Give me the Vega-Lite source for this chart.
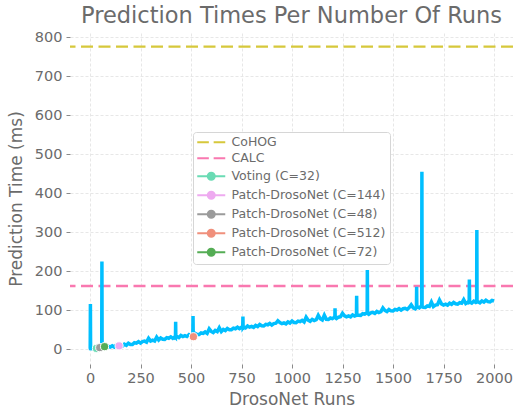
{
  "$schema": "https://vega.github.io/schema/vega-lite/v6.json",
  "width": 443,
  "height": 331,
  "autosize": {"type": "none"},
  "padding": {"left": 70, "top": 33, "right": 0, "bottom": 48},
  "background": "white",
  "title": {"text": "Prediction Times Per Number Of Runs", "fontSize": 22.5, "font": "DejaVu Sans", "fontWeight": "normal", "color": "#6b6b6b", "anchor": "middle", "offset": 2},
  "config": {
    "font": "DejaVu Sans",
    "view": {"stroke": null},
    "axis": {
      "grid": true, "gridColor": "#e4e4e4", "gridDash": [3, 2], "gridWidth": 0.9,
      "domain": false, "tickColor": "#8a8a8a", "tickSize": 4, "tickWidth": 1,
      "labelFont": "DejaVu Sans", "labelFontSize": 14.5, "labelColor": "#6b6b6b", "labelPadding": 4,
      "titleFont": "DejaVu Sans", "titleFontSize": 17, "titleFontWeight": "normal", "titleColor": "#6b6b6b"
    }
  },
  "resolve": {"scale": {"color": "independent"}},
  "datasets": {
    "drosonet": [
      {"runs": 0, "time": 0.5}, {"runs": 1, "time": 1}, {"runs": 2, "time": 116}, {"runs": 3, "time": 1.5},
      {"runs": 10, "time": 1}, {"runs": 20, "time": 3}, {"runs": 30, "time": 2}, {"runs": 40, "time": 3.5}, {"runs": 50, "time": 3},
      {"runs": 58, "time": 5}, {"runs": 59, "time": 225}, {"runs": 60, "time": 4}, {"runs": 70, "time": 6}, {"runs": 80, "time": 4.5},
      {"runs": 90, "time": 7.5}, {"runs": 100, "time": 5.5}, {"runs": 110, "time": 8.5}, {"runs": 120, "time": 5.5}, {"runs": 130, "time": 10.7},
      {"runs": 140, "time": 8}, {"runs": 150, "time": 10}, {"runs": 160, "time": 7.5}, {"runs": 170, "time": 12.7}, {"runs": 180, "time": 10},
      {"runs": 190, "time": 15.2}, {"runs": 200, "time": 12}, {"runs": 210, "time": 12}, {"runs": 220, "time": 16.5}, {"runs": 230, "time": 15.5},
      {"runs": 240, "time": 19.5}, {"runs": 250, "time": 15.7}, {"runs": 260, "time": 19.5}, {"runs": 270, "time": 20.7}, {"runs": 280, "time": 18},
      {"runs": 290, "time": 28}, {"runs": 300, "time": 21}, {"runs": 310, "time": 23.2}, {"runs": 320, "time": 21}, {"runs": 330, "time": 31},
      {"runs": 340, "time": 23.5}, {"runs": 350, "time": 28.7}, {"runs": 360, "time": 25.5}, {"runs": 370, "time": 25.2}, {"runs": 380, "time": 29.5},
      {"runs": 390, "time": 28}, {"runs": 400, "time": 31.5}, {"runs": 410, "time": 27.7}, {"runs": 420, "time": 31.5}, {"runs": 423, "time": 30},
      {"runs": 424, "time": 70}, {"runs": 425, "time": 31}, {"runs": 430, "time": 32.7}, {"runs": 440, "time": 30}, {"runs": 450, "time": 35.2},
      {"runs": 460, "time": 32.5}, {"runs": 470, "time": 34.7}, {"runs": 480, "time": 32.5}, {"runs": 490, "time": 37.5}, {"runs": 500, "time": 34.5},
      {"runs": 509, "time": 37}, {"runs": 510, "time": 85}, {"runs": 511, "time": 37.5}, {"runs": 520, "time": 40.5}, {"runs": 530, "time": 37.5},
      {"runs": 540, "time": 37.5}, {"runs": 550, "time": 41.7}, {"runs": 560, "time": 40.5}, {"runs": 570, "time": 44.2}, {"runs": 580, "time": 40.5},
      {"runs": 590, "time": 52}, {"runs": 600, "time": 45.5}, {"runs": 610, "time": 42.7}, {"runs": 620, "time": 48}, {"runs": 630, "time": 45.2},
      {"runs": 640, "time": 55}, {"runs": 650, "time": 45.2}, {"runs": 660, "time": 50.5}, {"runs": 670, "time": 47.7}, {"runs": 680, "time": 53},
      {"runs": 690, "time": 50}, {"runs": 700, "time": 50}, {"runs": 710, "time": 54}, {"runs": 720, "time": 52.5}, {"runs": 730, "time": 56.2},
      {"runs": 740, "time": 52.5}, {"runs": 750, "time": 56.2}, {"runs": 756, "time": 55}, {"runs": 757, "time": 84}, {"runs": 758, "time": 56},
      {"runs": 760, "time": 57.5}, {"runs": 770, "time": 54.5}, {"runs": 780, "time": 59.5}, {"runs": 790, "time": 56.5}, {"runs": 800, "time": 58.5},
      {"runs": 810, "time": 56}, {"runs": 820, "time": 61}, {"runs": 830, "time": 58.2}, {"runs": 840, "time": 63.5}, {"runs": 850, "time": 60},
      {"runs": 860, "time": 59.5}, {"runs": 870, "time": 63.7}, {"runs": 880, "time": 62.5}, {"runs": 890, "time": 66}, {"runs": 900, "time": 62},
      {"runs": 910, "time": 65.5}, {"runs": 920, "time": 66.5}, {"runs": 930, "time": 73}, {"runs": 940, "time": 68.5}, {"runs": 950, "time": 65.5},
      {"runs": 960, "time": 67.5}, {"runs": 970, "time": 65}, {"runs": 980, "time": 70}, {"runs": 990, "time": 67}, {"runs": 1000, "time": 72},
      {"runs": 1010, "time": 68.5}, {"runs": 1020, "time": 68}, {"runs": 1030, "time": 72}, {"runs": 1040, "time": 70.5}, {"runs": 1050, "time": 74},
      {"runs": 1060, "time": 70}, {"runs": 1070, "time": 82}, {"runs": 1080, "time": 74.5}, {"runs": 1090, "time": 71.5}, {"runs": 1100, "time": 76.5},
      {"runs": 1110, "time": 73.5}, {"runs": 1120, "time": 75.5}, {"runs": 1130, "time": 87}, {"runs": 1140, "time": 78}, {"runs": 1150, "time": 75},
      {"runs": 1160, "time": 87}, {"runs": 1170, "time": 76.5}, {"runs": 1180, "time": 76}, {"runs": 1190, "time": 80}, {"runs": 1200, "time": 78.5},
      {"runs": 1210, "time": 82.2}, {"runs": 1212, "time": 80}, {"runs": 1213, "time": 105}, {"runs": 1214, "time": 81}, {"runs": 1220, "time": 78.4},
      {"runs": 1230, "time": 82.1}, {"runs": 1240, "time": 83.3}, {"runs": 1250, "time": 92}, {"runs": 1260, "time": 85.7}, {"runs": 1270, "time": 82.9},
      {"runs": 1280, "time": 85.1}, {"runs": 1290, "time": 82.8}, {"runs": 1300, "time": 88}, {"runs": 1310, "time": 85.2}, {"runs": 1319, "time": 87},
      {"runs": 1320, "time": 137}, {"runs": 1321, "time": 88}, {"runs": 1330, "time": 87.1}, {"runs": 1340, "time": 86.8}, {"runs": 1350, "time": 91},
      {"runs": 1360, "time": 89.7}, {"runs": 1370, "time": 93.4}, {"runs": 1372, "time": 91}, {"runs": 1373, "time": 203}, {"runs": 1374, "time": 92},
      {"runs": 1380, "time": 89.6}, {"runs": 1390, "time": 93.3}, {"runs": 1400, "time": 94.5}, {"runs": 1410, "time": 91.7}, {"runs": 1420, "time": 96.9},
      {"runs": 1430, "time": 94.1}, {"runs": 1440, "time": 96.3}, {"runs": 1450, "time": 106}, {"runs": 1460, "time": 99.2}, {"runs": 1470, "time": 96.4},
      {"runs": 1480, "time": 101.6}, {"runs": 1490, "time": 98.3}, {"runs": 1500, "time": 98}, {"runs": 1510, "time": 102.1}, {"runs": 1520, "time": 100.6},
      {"runs": 1530, "time": 104.2}, {"runs": 1540, "time": 100.3}, {"runs": 1550, "time": 103.8}, {"runs": 1560, "time": 104.9}, {"runs": 1570, "time": 102},
      {"runs": 1580, "time": 107}, {"runs": 1590, "time": 114}, {"runs": 1600, "time": 106.2}, {"runs": 1610, "time": 103.7}, {"runs": 1616, "time": 107},
      {"runs": 1617, "time": 160}, {"runs": 1618, "time": 106}, {"runs": 1620, "time": 108.8}, {"runs": 1630, "time": 105.9}, {"runs": 1640, "time": 111},
      {"runs": 1642, "time": 108}, {"runs": 1643, "time": 455}, {"runs": 1644, "time": 109}, {"runs": 1650, "time": 107.5}, {"runs": 1660, "time": 107.1},
      {"runs": 1670, "time": 111.2}, {"runs": 1680, "time": 109.8}, {"runs": 1690, "time": 121}, {"runs": 1700, "time": 109.4}, {"runs": 1710, "time": 113},
      {"runs": 1720, "time": 114}, {"runs": 1730, "time": 126}, {"runs": 1740, "time": 116.2}, {"runs": 1750, "time": 113.3}, {"runs": 1760, "time": 115.3},
      {"runs": 1770, "time": 112.9}, {"runs": 1780, "time": 118}, {"runs": 1790, "time": 115}, {"runs": 1800, "time": 120}, {"runs": 1810, "time": 116.4},
      {"runs": 1820, "time": 115.7}, {"runs": 1830, "time": 119.5}, {"runs": 1840, "time": 117.9}, {"runs": 1850, "time": 127}, {"runs": 1860, "time": 117.1},
      {"runs": 1870, "time": 120.4}, {"runs": 1877, "time": 120}, {"runs": 1878, "time": 179}, {"runs": 1879, "time": 121}, {"runs": 1880, "time": 121.3},
      {"runs": 1890, "time": 118.1}, {"runs": 1900, "time": 123}, {"runs": 1910, "time": 119.8}, {"runs": 1914, "time": 121}, {"runs": 1915, "time": 306},
      {"runs": 1916, "time": 122}, {"runs": 1920, "time": 121.7}, {"runs": 1930, "time": 119}, {"runs": 1940, "time": 123.9}, {"runs": 1950, "time": 120.7},
      {"runs": 1960, "time": 125.6}, {"runs": 1970, "time": 121.9}, {"runs": 1980, "time": 121.3}, {"runs": 1990, "time": 125.1}, {"runs": 2000, "time": 123.5}
    ],
    "refs": [
      {"series": "CoHOG", "time": 776},
      {"series": "CALC", "time": 162}
    ],
    "points": [
      {"series": "Voting (C=32)", "runs": 32, "time": 2},
      {"series": "Patch-DrosoNet (C=144)", "runs": 144, "time": 8.5},
      {"series": "Patch-DrosoNet (C=48)", "runs": 48, "time": 4},
      {"series": "Patch-DrosoNet (C=512)", "runs": 512, "time": 32},
      {"series": "Patch-DrosoNet (C=72)", "runs": 72, "time": 6.5}
    ]
  },
  "layer": [
    {
      "data": {"name": "refs"},
      "mark": {"type": "rule", "strokeWidth": 2.4, "strokeDash": [12, 5.5]},
      "encoding": {
        "y": {"field": "time", "type": "quantitative", "scale": {"domain": [-38, 811]}},
        "color": {"field": "series", "type": "nominal", "legend": null,
          "scale": {"domain": ["CoHOG", "CALC"], "range": ["#d6c83b", "#f978b0"]}}
      }
    },
    {
      "data": {"name": "drosonet"},
      "mark": {"type": "line", "color": "#00bfff", "strokeWidth": 3.5, "clip": true},
      "encoding": {
        "x": {"field": "runs", "type": "quantitative", "scale": {"domain": [-99, 2094], "nice": false, "zero": false},
          "axis": {"title": "DrosoNet Runs", "values": [0, 250, 500, 750, 1000, 1250, 1500, 1750, 2000], "format": "d", "labelPadding": 3, "titlePadding": 7}},
        "y": {"field": "time", "type": "quantitative", "scale": {"domain": [-38, 811], "nice": false, "zero": false},
          "axis": {"title": "Prediction Time (ms)", "values": [0, 100, 200, 300, 400, 500, 600, 700, 800], "format": "d", "titlePadding": 9}}
      }
    },
    {
      "data": {"name": "points"},
      "mark": {"type": "point", "filled": true, "opacity": 1, "size": 66, "stroke": "white", "strokeWidth": 1},
      "encoding": {
        "x": {"field": "runs", "type": "quantitative"},
        "y": {"field": "time", "type": "quantitative"},
        "color": {"field": "series", "type": "nominal", "legend": null,
          "scale": {"domain": ["Voting (C=32)", "Patch-DrosoNet (C=144)", "Patch-DrosoNet (C=48)", "Patch-DrosoNet (C=512)", "Patch-DrosoNet (C=72)"],
                    "range": ["#6adbb4", "#eeaaf0", "#9b9b9b", "#f0907c", "#55ad55"]}}
      }
    },
    {
      "data": {"name": "points"},
      "mark": {"type": "point", "filled": true, "opacity": 0, "strokeWidth": 2},
      "encoding": {
        "x": {"field": "runs", "type": "quantitative"},
        "y": {"field": "time", "type": "quantitative"},
        "fill": {"field": "series", "type": "nominal", "scale": {"domain": ["CoHOG", "CALC", "Voting (C=32)", "Patch-DrosoNet (C=144)", "Patch-DrosoNet (C=48)", "Patch-DrosoNet (C=512)", "Patch-DrosoNet (C=72)"],
                    "range": ["#d6c83b", "#f978b0", "#6adbb4", "#eeaaf0", "#9b9b9b", "#f0907c", "#55ad55"]},
          "legend": {"title": null, "orient": "none", "legendX": 123, "legendY": 99, "padding": 4, "fillColor": "white", "strokeColor": "#d6d6d6", "cornerRadius": 3,
            "symbolSize": 64, "symbolStrokeWidth": 2, "symbolOpacity": 1, "symbolOffset": 8, "labelOffset": 14, "rowPadding": 3,
            "labelFont": "DejaVu Sans", "labelFontSize": 12.5, "labelColor": "#6b6b6b", "labelLimit": 300}},
        "stroke": {"field": "series", "type": "nominal", "scale": {"domain": ["CoHOG", "CALC", "Voting (C=32)", "Patch-DrosoNet (C=144)", "Patch-DrosoNet (C=48)", "Patch-DrosoNet (C=512)", "Patch-DrosoNet (C=72)"],
                    "range": ["#d6c83b", "#f978b0", "#6adbb4", "#eeaaf0", "#9b9b9b", "#f0907c", "#55ad55"]},
          "legend": {"title": null, "orient": "none", "legendX": 123, "legendY": 99, "padding": 4, "fillColor": "white", "strokeColor": "#d6d6d6", "cornerRadius": 3,
            "symbolSize": 64, "symbolStrokeWidth": 2, "symbolOpacity": 1, "symbolOffset": 8, "labelOffset": 14, "rowPadding": 3,
            "labelFont": "DejaVu Sans", "labelFontSize": 12.5, "labelColor": "#6b6b6b", "labelLimit": 300}},
        "shape": {"field": "series", "type": "nominal", "scale": {"domain": ["CoHOG", "CALC", "Voting (C=32)", "Patch-DrosoNet (C=144)", "Patch-DrosoNet (C=48)", "Patch-DrosoNet (C=512)", "Patch-DrosoNet (C=72)"],
                    "range": ["M-3.5,0H-0.6M0.6,0H3.5", "M-3.5,0H-0.6M0.6,0H3.5",
                              "M-3.5,0H3.5M0.875,0A0.875,0.875,0,1,1,-0.875,0A0.875,0.875,0,1,1,0.875,0Z",
                              "M-3.5,0H3.5M0.875,0A0.875,0.875,0,1,1,-0.875,0A0.875,0.875,0,1,1,0.875,0Z",
                              "M-3.5,0H3.5M0.875,0A0.875,0.875,0,1,1,-0.875,0A0.875,0.875,0,1,1,0.875,0Z",
                              "M-3.5,0H3.5M0.875,0A0.875,0.875,0,1,1,-0.875,0A0.875,0.875,0,1,1,0.875,0Z",
                              "M-3.5,0H3.5M0.875,0A0.875,0.875,0,1,1,-0.875,0A0.875,0.875,0,1,1,0.875,0Z"]},
          "legend": {"title": null, "orient": "none", "legendX": 123, "legendY": 99, "padding": 4, "fillColor": "white", "strokeColor": "#d6d6d6", "cornerRadius": 3,
            "symbolSize": 64, "symbolStrokeWidth": 2, "symbolOpacity": 1, "symbolOffset": 8, "labelOffset": 14, "rowPadding": 3,
            "labelFont": "DejaVu Sans", "labelFontSize": 12.5, "labelColor": "#6b6b6b", "labelLimit": 300}}
      }
    }
  ]
}
